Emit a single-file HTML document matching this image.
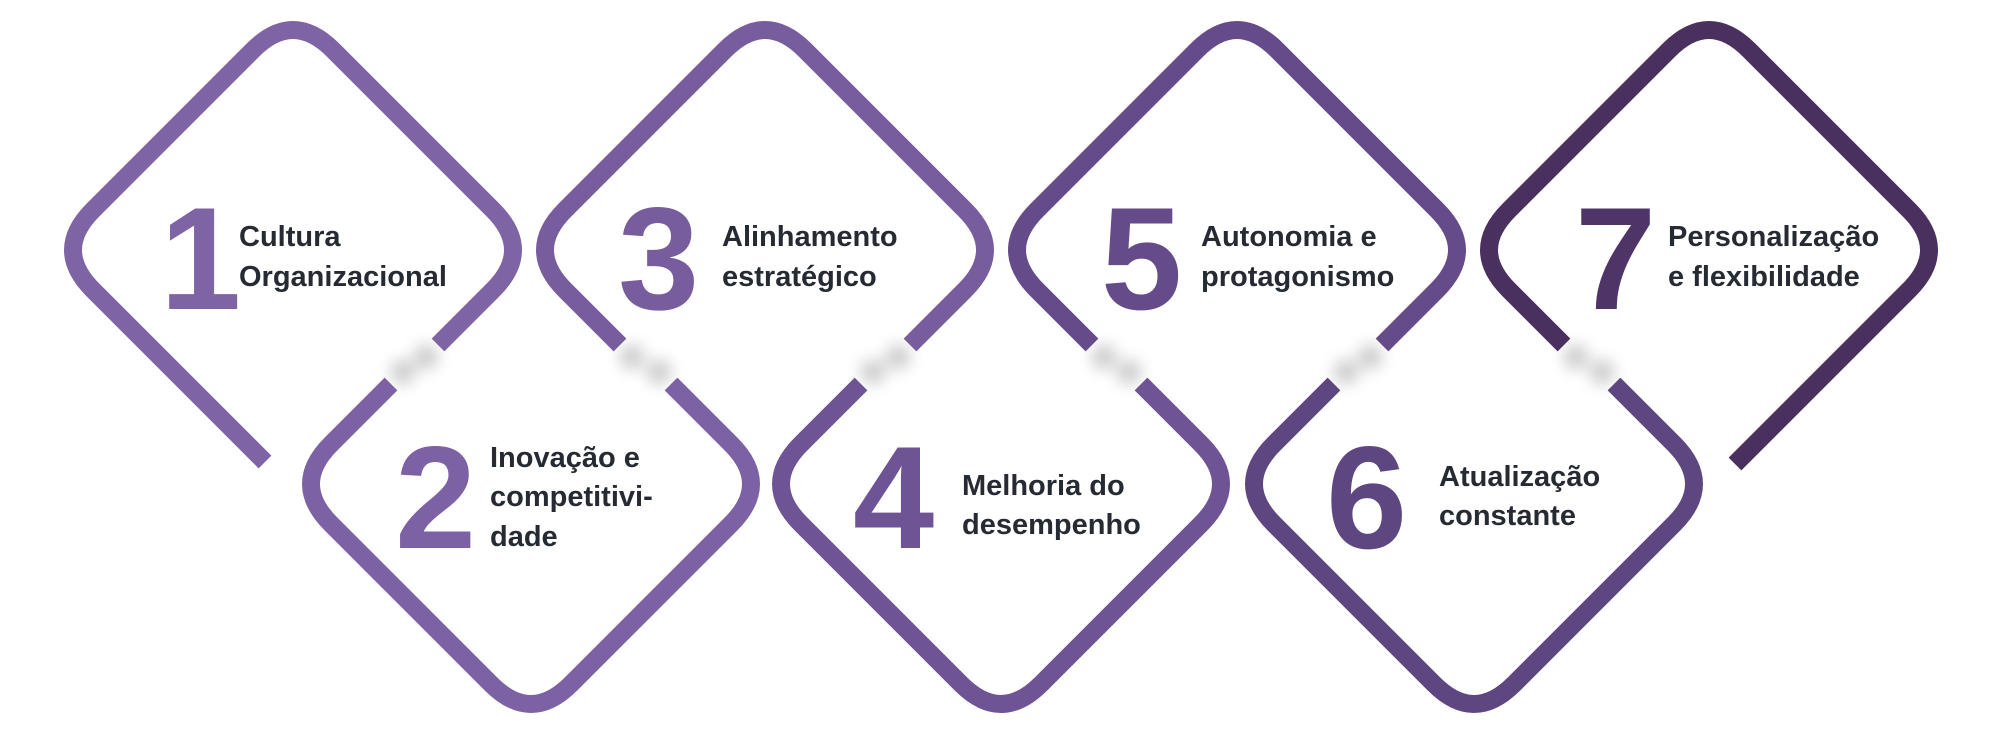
<!DOCTYPE html>
<html><head><meta charset="utf-8"><style>
html,body{margin:0;padding:0;background:#fff;}
svg{display:block}
.lbl{font-family:"Liberation Sans",sans-serif;font-weight:bold;font-size:29px;fill:#262b33}
.num{font-family:"Liberation Sans",sans-serif;font-weight:bold;font-size:146px}
</style></head><body>
<svg id="s" width="2000" height="744" viewBox="0 0 2000 744" xmlns="http://www.w3.org/2000/svg">
<defs><filter id="bl" x="-100%" y="-100%" width="300%" height="300%"><feGaussianBlur stdDeviation="8"/></filter></defs>
<g id="shapes"></g>
<text class="num" x="160" y="309" fill="#7e63a5">1</text>
<text class="lbl" x="239" y="246">Cultura</text>
<text class="lbl" x="239" y="286">Organizacional</text>
<text class="num" x="618" y="309" fill="#785d9e">3</text>
<text class="lbl" x="722" y="246">Alinhamento</text>
<text class="lbl" x="722" y="286">estratégico</text>
<text class="num" x="1101" y="309" fill="#654b89">5</text>
<text class="lbl" x="1201" y="246">Autonomia e</text>
<text class="lbl" x="1201" y="286">protagonismo</text>
<text class="num" x="1575" y="309" fill="#4f3468">7</text>
<text class="lbl" x="1668" y="246">Personalização</text>
<text class="lbl" x="1668" y="286">e flexibilidade</text>
<text class="num" x="395" y="548" fill="#7c62a4">2</text>
<text class="lbl" x="490" y="467">Inovação e</text>
<text class="lbl" x="490" y="506">competitivi-</text>
<text class="lbl" x="490" y="546">dade</text>
<text class="num" x="853" y="548" fill="#6e5495">4</text>
<text class="lbl" x="962" y="495">Melhoria do</text>
<text class="lbl" x="962" y="534">desempenho</text>
<text class="num" x="1326" y="548" fill="#5e4680">6</text>
<text class="lbl" x="1439" y="486">Atualização</text>
<text class="lbl" x="1439" y="525">constante</text>
</svg>
<script>
(function(){
var g=document.getElementById('shapes'),h=240,rd=40,out='';
function P(x,y){return x.toFixed(1)+' '+y.toFixed(1);}
function shadow(x,y){out+='<circle cx="'+x+'" cy="'+y+'" r="12" fill="#000" opacity="0.22" filter="url(#bl)"/>';}
function dTop(cx,cy,c,aL,aR){
 var S=[cx-h+aL,cy+aL],E=[cx+h-aR,cy+aR];
 var d='M'+P(S[0],S[1])+' L'+P(cx-h+rd,cy+rd)+' Q'+P(cx-h,cy)+' '+P(cx-h+rd,cy-rd)+' L'+P(cx-rd,cy-h+rd)+' Q'+P(cx,cy-h)+' '+P(cx+rd,cy-h+rd)+' L'+P(cx+h-rd,cy-rd)+' Q'+P(cx+h,cy)+' '+P(cx+h-rd,cy+rd)+' L'+P(E[0],E[1]);
 if(aL<150)shadow(S[0]+12,S[1]+12); if(aR<150)shadow(E[0]-12,E[1]+12);
 out+='<path d="'+d+'" fill="none" stroke="'+c+'" stroke-width="18"/>';
}
function dBot(cx,cy,c,a){
 var S=[cx-h+a,cy-a],E=[cx+h-a,cy-a];
 var d='M'+P(S[0],S[1])+' L'+P(cx-h+rd,cy-rd)+' Q'+P(cx-h,cy)+' '+P(cx-h+rd,cy+rd)+' L'+P(cx-rd,cy+h-rd)+' Q'+P(cx,cy+h)+' '+P(cx+rd,cy+h-rd)+' L'+P(cx+h-rd,cy+rd)+' Q'+P(cx+h,cy)+' '+P(cx+h-rd,cy-rd)+' L'+P(E[0],E[1]);
 shadow(S[0]+12,S[1]-12); shadow(E[0]-12,E[1]-12);
 out+='<path d="'+d+'" fill="none" stroke="'+c+'" stroke-width="18"/>';
}
dTop(293,250,'#7e63a5',h-28,95);
dTop(765,250,'#785d9e',95,95);
dTop(1237,250,'#654b89',95,95);
dTop(1709,250,'#4a305f',95,h-26);
dBot(531,484,'#7c62a4',100);
dBot(1001,484,'#6e5495',100);
dBot(1474,484,'#5e4680',100);
g.innerHTML=out;
})();
</script>
</body></html>
